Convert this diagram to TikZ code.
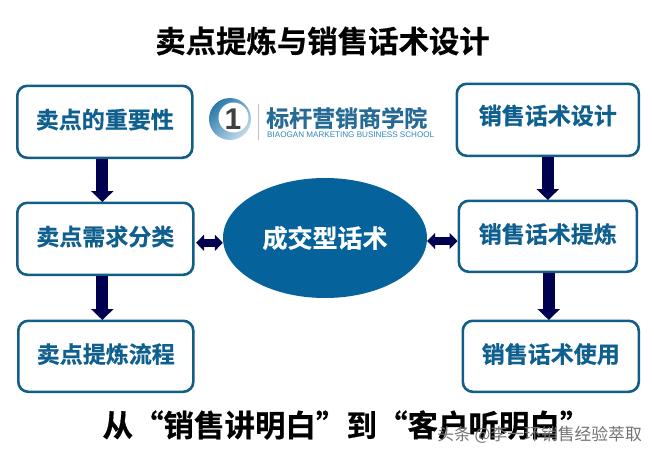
\documentclass[tikz,border=0pt]{standalone}
\usepackage{fontspec}
\setmainfont{Noto Sans CJK SC}[BoldFont={Noto Sans CJK SC Bold},BoldFeatures={FakeBold=0.5}]
\newfontfamily\latinfont{Liberation Sans}
\usetikzlibrary{arrows.meta,shapes.geometric}
\definecolor{boxblue}{HTML}{125E86}
\definecolor{textblue}{HTML}{0F5F8F}
\definecolor{ovalblue}{HTML}{06629A}
\definecolor{arrownavy}{HTML}{000050}
\definecolor{logoblue}{HTML}{2F86BC}
\tikzset{
    salesbox/.style={draw=boxblue,line width=2.6pt,rounded corners=10pt,fill=white,text=textblue,
        font=\fontsize{23}{24}\selectfont\bfseries,inner sep=0pt,anchor=north west,text height=19pt,text depth=6pt},
    downarrow/.style={arrownavy,line width=12pt,-{Triangle[width=22pt,length=11pt]},shorten >=-0.5pt},
    botharrow/.style={arrownavy,line width=8pt,{Triangle[width=16pt,length=8pt]}-{Triangle[width=16pt,length=8pt]}},
}
\begin{document}
\begin{tikzpicture}[x=1pt,y=-1pt]
    \useasboundingbox[fill=white] (0,0) rectangle (654,456);
    %% title
    \node[font=\fontsize{30.4}{32}\selectfont\bfseries] (title) at (322.5,41) {卖点提炼与销售话术设计};
    %% left column
    \node[salesbox,minimum width=175pt,minimum height=72pt] (sellpoint) at (16,84.5) {卖点的重要性};
    \node[salesbox,minimum width=176pt,minimum height=72pt] (demand) at (16,201.5) {卖点需求分类};
    \node[salesbox,minimum width=175pt,minimum height=71pt] (refine) at (17,319.5) {卖点提炼流程};
    %% right column
    \node[salesbox,minimum width=182pt,minimum height=72pt,text depth=10pt] (design) at (455.5,82.5) {销售话术设计};
    \node[salesbox,minimum width=178pt,minimum height=71pt] (extract) at (457.5,199.5) {销售话术提炼};
    \node[salesbox,minimum width=176pt,minimum height=71pt] (use) at (461.5,319.5) {销售话术使用};
    %% center oval
    \node[ellipse,fill=ovalblue,text=white,minimum width=204pt,minimum height=120pt,inner sep=0pt,
        font=\fontsize{25}{27}\selectfont\bfseries] (deal) at (325,238) {成交型话术};
    %% arrows
    \draw[downarrow] ([xshift=-2.5pt]sellpoint.south) -- ([xshift=-3pt]demand.north);
    \draw[downarrow] ([xshift=-3pt]demand.south) -- ([xshift=-3.5pt]refine.north);
    \draw[downarrow] ([xshift=0pt]design.south) -- ([xshift=0pt]extract.north);
    \draw[downarrow] ([xshift=1pt]extract.south) -- ([xshift=-2pt]use.north);
    \draw[botharrow] ([yshift=-4pt]demand.east) ++(1.5,0) coordinate (lefta) -- (lefta -| deal.west);
    \draw[botharrow] (deal.east |- 0,241) coordinate (righta) -- (extract.west |- righta);
    %% logo
    \shade[left color=logoblue!90!black,right color=logoblue!30,shading angle=45] (230,119) circle (21);
    \fill[white] (233.5,117.5) circle (15);
    \node[font=\latinfont\fontsize{30}{30}\selectfont\bfseries,text=black!75] (one) at (233,119) {1};
    \draw[black!25,line width=1pt] (258,104) -- (258,140);
    \node[anchor=west,inner sep=0pt,text=logoblue!80!black,font=\fontsize{23}{24}\selectfont\bfseries] (school) at (266,118) {标杆营销商学院};
    \node[anchor=west,inner sep=0pt,text=logoblue,font=\latinfont\fontsize{8.1}{10}\selectfont] (schoolen) at (267,135) {BIAOGAN MARKETING BUSINESS SCHOOL};
    %% bottom line
    \node[font=\fontsize{30.5}{32}\selectfont\bfseries] (slogan) at (346.5,425) {从“销售讲明白”到“客户听明白”};
    %% watermark
    \node[anchor=east,inner sep=0pt,text=black!55,font=\fontsize{16.8}{18}\selectfont] (mark) at (642,435) {头条 @李一环销售经验萃取};
\end{tikzpicture}
\end{document}
